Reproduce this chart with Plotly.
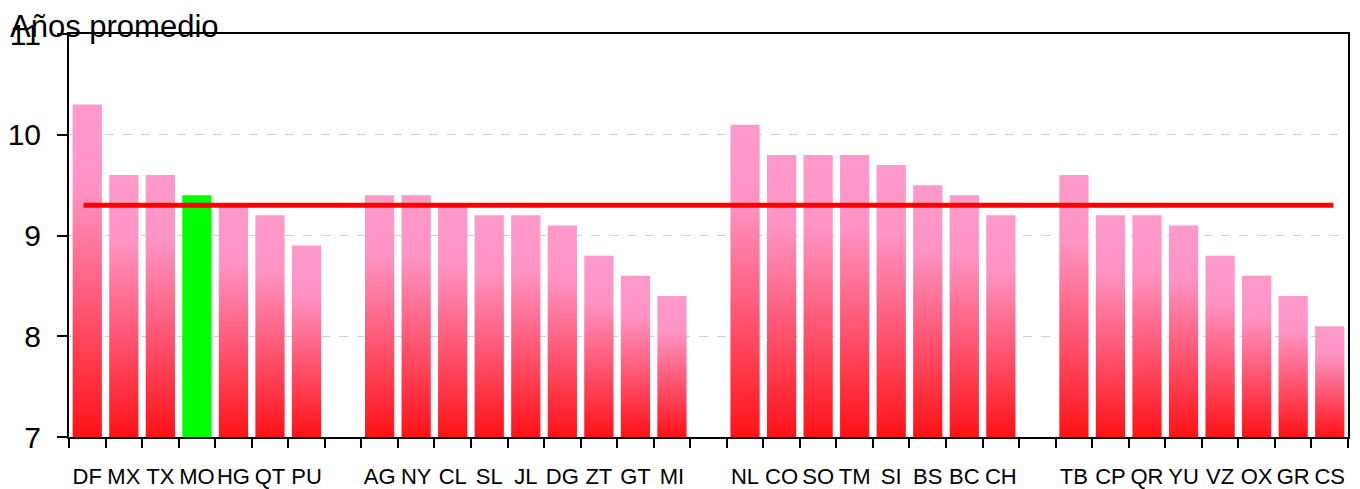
import plotly.graph_objects as go

# states in four groups, with a blank slot between groups
groups = [
    ["DF", "MX", "TX", "MO", "HG", "QT", "PU"],
    ["AG", "NY", "CL", "SL", "JL", "DG", "ZT", "GT", "MI"],
    ["NL", "CO", "SO", "TM", "SI", "BS", "BC", "CH"],
    ["TB", "CP", "QR", "YU", "VZ", "OX", "GR", "CS"],
]
values = [
    [10.3, 9.6, 9.6, 9.4, 9.3, 9.2, 8.9],
    [9.4, 9.4, 9.3, 9.2, 9.2, 9.1, 8.8, 8.6, 8.4],
    [10.1, 9.8, 9.8, 9.8, 9.7, 9.5, 9.4, 9.2],
    [9.6, 9.2, 9.2, 9.1, 8.8, 8.6, 8.4, 8.1],
]
highlight = "MO"
promedio_nacional = 9.3
y_min, y_max = 7, 11

labels, vals, pos = [], [], []
p = 0
for g, vs in zip(groups, values):
    for lab, v in zip(g, vs):
        labels.append(lab)
        vals.append(v)
        pos.append(p)
        p += 1
    p += 1  # gap slot
last = pos[-1]

fig = go.Figure()
hw = 0.4
grad = [[0, "#FF1216"], [0.35, "#FF4F6A"], [0.75, "#FF94C4"], [1, "#FF99CC"]]
for lab, v, x in zip(labels, vals, pos):
    xs = [x - hw, x + hw, x + hw, x - hw, x - hw]
    ys = [y_min, y_min, v, v, y_min]
    if lab == highlight:
        fig.add_trace(go.Scatter(x=xs, y=ys, mode="lines", line=dict(width=0),
                                 fill="toself", fillcolor="#00FF00", hoverinfo="skip"))
    else:
        fig.add_trace(go.Scatter(x=xs, y=ys, mode="lines", line=dict(width=0),
                                 fill="toself",
                                 fillgradient=dict(type="vertical", colorscale=grad,
                                                   start=y_min, stop=v),
                                 hoverinfo="skip"))

fig.add_trace(go.Scatter(x=[pos[0] - 0.1, last + 0.1], y=[promedio_nacional] * 2,
                         mode="lines", line=dict(color="#FF0000", width=5),
                         hoverinfo="skip"))

# page body has an 8px margin, so the figure is a bit smaller and shifted
fig.update_layout(
    width=1352, height=481,
    margin=dict(l=61, r=12, t=26, b=52, autoexpand=False),
    plot_bgcolor="white", paper_bgcolor="white",
    showlegend=False,
    font=dict(family="Liberation Sans, Arial", color="black"),
)
fig.update_xaxes(
    automargin=False,
    range=[-0.5, last + 0.5],
    tickvals=pos, ticktext=labels, ticks="", tickfont=dict(size=22),
    showgrid=False, zeroline=False,
    showline=True, linecolor="black", linewidth=2, mirror=True,
    minor=dict(tickvals=[i - 0.5 for i in range(last + 2)], ticks="outside",
               ticklen=9, tickwidth=2, tickcolor="black", showgrid=False),
    ticklabelstandoff=19,
)
fig.update_yaxes(
    automargin=False,
    range=[y_min, y_max], tickvals=[7, 8, 9, 10, 11],
    ticks="outside", ticklen=10, tickwidth=2, tickcolor="black",
    tickfont=dict(size=30), ticklabelstandoff=10,
    showgrid=True, gridcolor="#D0D0D0", griddash="dash", gridwidth=1,
    zeroline=False,
    showline=True, linecolor="black", linewidth=2, mirror=True,
)
fig.add_annotation(text="Años promedio", xref="paper", yref="paper", x=-0.0477, y=1.0,
                   xanchor="left", yanchor="top", yshift=27, showarrow=False,
                   font=dict(size=31, color="black"))

fig.write_html("out.html")
